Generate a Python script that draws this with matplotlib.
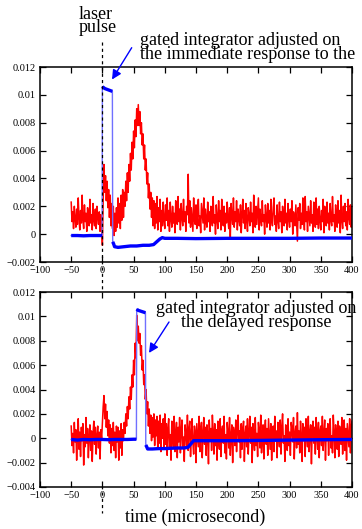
import numpy as np
import matplotlib
matplotlib.use("Agg")
import matplotlib.pyplot as plt
from matplotlib.ticker import FuncFormatter, MultipleLocator
from matplotlib.transforms import blended_transform_factory

plt.rcParams['font.family'] = ['Liberation Serif', 'DejaVu Serif']

# ---------------- data (signal values in units of 1e-3) ----------------
# red traces are sampled every 1.25 microseconds from -50 to 400
t_start, t_step = -50.0, 1.25

red_top = [
    # -50 .. -1.25
    2.3, 0.9, 1.6, 0.4, 2.0, 1.1, 0.5, 1.8, 0.7, 2.6,
    1.2, 0.3, 1.7, 0.8, 2.8, 1.0, 0.4, 2.1, 0.9, 1.5,
    0.2, 1.9, 1.3, 0.6, 2.5, 0.8, 1.4, 0.3, 2.2, 1.0,
    0.6, 1.8, 0.4, 2.0, 1.2, 0.7, 1.6, 0.2, 1.4, 0.5,
    # 0 .. 98.75
    -0.8, 2.5, 5.0, 3.0, 4.2, 2.4, 3.8, 1.9, 3.2, 1.2,
    2.8, 0.6, 2.2, 0.4, 2.0, -0.1, 1.5, 0.2, 1.9, 0.5,
    2.6, 0.8, 2.2, 0.4, 2.8, 1.0, 3.2, 1.2, 3.0, 2.0,
    3.8, 2.4, 4.4, 3.0, 5.0, 3.8, 5.8, 4.6, 6.6, 5.4,
    7.4, 6.2, 8.2, 7.0, 9.0, 7.8, 9.3, 7.8, 8.8, 7.2,
    8.0, 6.4, 7.2, 5.4, 6.4, 4.6, 5.4, 3.6, 4.4, 2.6,
    3.6, 1.8, 3.0, 1.2, 2.6, 0.6, 2.4, 0.4, 2.2, 0.8,
    2.7, 0.3, 1.9, 0.9, 2.5, 0.2, 1.7, 0.6, 2.3, 1.0,
    # 100 .. 400
    0.4, 2.1, 1.0, 2.6, 0.6, 1.7, 0.2, 2.3, 1.1, 0.5,
    2.0, 0.8, 1.5, 0.1, 2.4, 1.3, 0.7, 2.7, 0.9, 1.8,
    0.3, 2.2, 1.2, 0.6, 2.5, 0.9, 1.6, 0.2, 2.0, 1.4,
    4.3, 0.8, 2.4, 0.5, 1.9, 1.1, 0.2, 2.6, 1.0, 0.7,
    2.1, 0.4, 1.7, 2.5, 0.6, 1.3, 0.1, 2.2, 1.5, 0.8,
    2.6, 0.3, 1.8, 1.0, 0.5, 2.3, 0.9, 1.6, 0.2, 2.0,
    1.2, 0.6, 2.7, 0.8, 1.4, 0.0, 2.1, 1.1, 0.4, 2.4,
    0.9, 1.7, 0.3, 2.5, 1.2, 0.6, 2.0, 0.2, 1.5, 0.8,
    2.3, 1.0, 0.4, 1.9, -0.2, 2.2, 1.3, 0.7, 2.6, 0.5,
    1.6, 0.9, 2.4, 0.3, 1.8, 1.1, 0.6, 2.1, 0.1, 1.4,
    2.5, 0.8, 1.7, 0.4, 2.2, 1.0, 0.2, 1.9, 1.3, 0.6,
    2.3, 0.9, 1.5, 0.1, 2.8, 1.2, 0.5, 2.0, 0.7, 1.6,
    2.6, 0.3, 1.8, 1.1, 0.6, 2.4, 0.9, 1.4, 0.0, 2.1,
    1.2, 0.5, 2.2, 0.8, 1.7, 0.3, 2.5, 1.0, 0.6, 1.9,
    2.6, 0.7, 1.3, 0.2, 2.1, 1.0, 0.4, 2.3, 0.9, 1.6,
    0.1, 2.0, 1.2, 0.6, 2.5, 0.8, 1.5, 0.3, 2.2, 1.1,
    0.5, 1.8, 0.9, 2.4, 0.0, 1.6, 1.2, 0.6, 2.1, 0.8,
    -0.5, 1.9, 1.0, 2.2, 0.4, 1.5, 0.7, 2.6, 1.1, 0.3,
    2.7, 0.9, 1.6, 0.2, 2.0, 1.3, 0.6, 2.4, 0.8, 1.4,
    0.2, 2.3, 1.1, 0.5, 2.6, 0.7, 1.8, 0.4, 2.0, 1.0,
    0.3, 1.7, 0.9, 2.5, 0.1, 2.0, 1.2, 0.6, 2.3, 0.8,
    1.5, 0.3, 2.2, 1.0, 0.6, 2.7, 0.9, 1.4, 0.2, 2.1,
    1.1, 0.5, 2.4, 0.8, 1.7, 0.1, 2.8, 1.0, 0.4, 2.0,
    0.9, 2.2, 0.6, 1.6, 0.3, 2.5, 1.2, 0.7, 2.1, 0.5,
    1.9,
]

red_bot = [
    # -50 .. -1.25
    1.0, -0.6, 0.4, -1.2, 1.3, -0.3, 0.7, -1.8, 0.2, 1.6,
    -0.9, 0.5, -1.5, 0.9, -0.2, 1.2, -2.2, 0.3, -0.7, 1.7,
    -0.4, 0.8, -1.6, 0.1, 1.1, -1.0, 0.6, -1.9, 0.4, 1.4,
    -0.5, 0.9, -1.3, 0.2, 1.0, -0.8, 0.5, -1.7, 0.7, -0.1,
    # 0 .. 98.75
    1.2, 2.6, 3.5, 1.6, 2.8, 0.9, 2.2, 0.2, 1.5, -0.4,
    1.1, -1.2, 0.8, -0.6, 1.3, -1.0, 0.5, -1.6, 1.0, -0.3,
    0.9, -1.8, 0.6, -0.8, 1.2, -1.4, 0.7, -0.2, 1.3, 0.4,
    2.0, 1.0, 2.6, 1.6, 3.4, 2.4, 4.2, 3.2, 5.2, 4.2,
    6.4, 5.2, 7.8, 6.6, 10.1, 8.0, 9.2, 7.8, 8.6, 6.8,
    7.6, 5.6, 6.4, 4.4, 5.2, 3.2, 4.0, 2.0, 3.0, 1.0,
    2.4, 0.4, 1.9, -0.2, 1.7, 0.1, 2.0, -0.6, 1.5, 0.2,
    1.8, -0.9, 1.4, -0.4, 1.9, -1.1, 1.2, 0.0, 1.6, -0.7,
    # 100 .. 400
    2.0, -0.5, 1.2, -1.4, 0.8, 1.6, -0.9, 0.3, -1.8, 1.4,
    0.5, -0.7, 1.8, -1.1, 0.2, 1.3, -1.6, 0.9, -0.3, 1.7,
    -1.2, 0.6, 1.5, -0.8, 0.1, -1.9, 1.1, 0.4, -0.6, 1.9,
    -1.0, 0.7, 1.4, -1.5, 0.3, 1.6, -0.4, -1.3, 1.0, 0.5,
    -2.0, 1.2, 0.2, -0.7, 1.8, -1.1, 0.6, 1.3, -1.6, 0.4,
    1.7, -0.5, 0.9, -1.4, 1.1, 0.3, -2.1, 1.5, -0.2, 0.8,
    -1.0, 1.9, 0.5, -1.3, 1.2, -0.6, 0.7, -1.8, 1.4, 0.1,
    -0.9, 1.6, -1.5, 0.6, 1.0, -0.4, 1.8, -1.2, 0.3, -1.7,
    1.3, 0.5, -0.8, 1.7, -1.4, 0.2, 1.1, -2.0, 0.9, 0.4,
    -0.6, 1.5, -1.1, 0.7, 1.9, -0.3, 0.6, -1.6, 1.2, -0.9,
    0.8, 1.4, -1.9, 0.3, 1.0, -0.7, 1.6, -1.3, 0.5, 1.8,
    -0.4, 0.9, -2.0, 1.2, 0.2, -1.0, 1.7, -0.6, 0.4, -1.5,
    1.3, 0.6, -0.8, 1.9, -1.2, 0.1, 1.1, -1.7, 0.7, 1.5,
    -0.5, 0.8, -1.4, 1.6, 0.3, -0.9, 1.2, -1.8, 0.5, 1.0,
    -1.1, 1.8, -0.2, 0.6, -1.6, 1.3, 0.4, -0.7, 1.5, -1.3,
    0.9, 2.0, -0.4, 0.2, -1.9, 1.1, 0.7, -1.0, 1.6, -0.6,
    0.5, -1.4, 1.3, 0.8, -0.3, 1.7, -1.7, 0.4, 1.0, -0.8,
    2.1, -0.5, 0.6, -1.2, 1.4, 0.2, -1.9, 1.2, -0.2, 0.9,
    -1.5, 1.6, 0.3, -0.7, 1.8, -1.1, 0.5, 1.1, -2.1, 0.7,
    1.4, -0.4, 0.9, -1.3, 1.7, 0.1, -0.9, 1.3, -1.6, 0.6,
    1.0, -0.6, 1.8, -1.0, 0.4, 1.5, -1.8, 0.8, -0.2, 1.2,
    -1.4, 0.7, 1.6, -0.8, 0.2, -1.2, 1.9, 0.5, -1.6, 1.1,
    0.3, -0.9, 1.4, -1.5, 1.0, 0.6, -0.5, 1.7, -1.3, 0.4,
    1.5, -1.0, 0.8, -1.8, 1.2, 0.2, -0.7, 1.6, -1.2, 0.9,
    1.4,
]

blue_top_t = [-50, -40, -30, -20, -10, -0.5, 0, 1, 4, 7, 10, 13, 16,
              16.5, 18, 19.5, 25, 35, 45, 55, 65, 75, 82, 87, 92, 96,
              100, 120, 150, 200, 250, 300, 350, 400]
blue_top_v = [-0.1, -0.1, -0.12, -0.1, -0.1, -0.1, 10.6, 10.55, 10.45,
              10.4, 10.35, 10.3, 10.25,
              -0.55, -0.7, -0.9, -0.95, -0.9, -0.85, -0.85, -0.8, -0.8,
              -0.75, -0.55, -0.35, -0.25, -0.3, -0.3, -0.32, -0.3, -0.3,
              -0.3, -0.28, -0.28]

blue_bot_t = [-50, -40, -30, -20, -10, 0, 10, 20, 30, 40, 50, 54.5,
              55, 57, 60, 63, 66, 69,
              69.5, 71, 72.5, 80, 90, 100, 110, 120, 130, 137, 142, 146,
              150, 160, 200, 250, 300, 350, 400]
blue_bot_v = [-0.1, -0.15, -0.1, -0.12, -0.1, -0.1, -0.12, -0.1, -0.1,
              -0.1, -0.08, -0.08,
              10.6, 10.5, 10.45, 10.4, 10.35, 10.3,
              -0.55, -0.7, -0.88, -0.88, -0.85, -0.85, -0.82, -0.8, -0.8,
              -0.75, -0.45, -0.2, -0.2, -0.2, -0.2, -0.18, -0.15, -0.12,
              -0.1]

x_ticks = [-100, -50, 0, 50, 100, 150, 200, 250, 300, 350, 400]
top_ylim = (-0.002, 0.012)
bot_ylim = (-0.004, 0.012)

# ---------------- figure ----------------
W, H = 362, 529
fig = plt.figure(figsize=(W / 100, H / 100), dpi=100)


def px_axes(l, t, r, b):
    return fig.add_axes([l / W, 1 - b / H, (r - l) / W, (b - t) / H])


ax1 = px_axes(40, 67, 352, 262)
ax2 = px_axes(40, 292, 352, 487)

fmt = FuncFormatter(lambda v, p: ('%g' % round(v, 6)).replace('-', '\u2212'))


def draw_panel(ax, red, bt, bv, ylim):
    red = np.asarray(red) * 1e-3
    t = t_start + t_step * np.arange(len(red))
    ax.plot(t, red, color='red', lw=1.1, zorder=2)
    bt = np.asarray(bt, float)
    bv = np.asarray(bv) * 1e-3
    ax.plot(bt, bv, color='#7070ff', lw=1.0, zorder=3)
    # thick segments between the jumps
    jumps = np.where(np.abs(np.diff(bv)) > 0.002)[0]
    starts = np.r_[0, jumps + 1]
    ends = np.r_[jumps + 1, len(bv)]
    for s, e in zip(starts, ends):
        ax.plot(bt[s:e], bv[s:e], color='blue', lw=2.4,
                solid_capstyle='butt', zorder=4)
    ax.set_xlim(-100, 400)
    ax.set_ylim(*ylim)
    ax.set_xticks(x_ticks)
    ax.yaxis.set_major_locator(MultipleLocator(0.002))
    ax.xaxis.set_major_formatter(fmt)
    ax.yaxis.set_major_formatter(fmt)
    ax.tick_params(direction='in', top=True, right=True, length=4,
                   width=0.9, labelsize=7.5, pad=3, colors='black')
    for sp in ax.spines.values():
        sp.set_linewidth(1.1)


draw_panel(ax1, red_top, blue_top_t, blue_top_v, top_ylim)
draw_panel(ax2, red_bot, blue_bot_t, blue_bot_v, bot_ylim)

# dashed "laser pulse" line at t = 0 running through both panels
tr = blended_transform_factory(ax1.transData, fig.transFigure)
ax1.plot([0, 0], [1 - 42 / H, 1 - 513 / H], transform=tr, color='black',
         lw=0.9, dashes=(2.5, 2.5), clip_on=False, zorder=5)

fs = 13


def ftext(x, y, s, ha='left'):
    fig.text(x / W, 1 - y / H, s, ha=ha, va='baseline', fontsize=fs)


ftext(79, 19, 'laser')
ftext(79, 32, 'pulse')
ftext(140, 45, 'gated integrator adjusted on')
ftext(140, 59, 'the immediate response to the')
ftext(256, 313, 'gated integrator adjusted on', ha='center')
ftext(256, 327, 'the delayed response', ha='center')
ftext(195.5, 522, 'time (microsecond)', ha='center')

arrow = dict(arrowstyle='-|>', color='blue', lw=1.0, mutation_scale=14,
             shrinkA=0, shrinkB=0)
ax1.annotate('', xy=(15.4, 0.0111), xycoords='data',
             xytext=(131.7 / W, 1 - 47.7 / H), textcoords='figure fraction',
             arrowprops=arrow, annotation_clip=False)
ax2.annotate('', xy=(74.7, 0.0070), xycoords='data',
             xytext=(169 / W, 1 - 322 / H), textcoords='figure fraction',
             arrowprops=arrow, annotation_clip=False)

fig.savefig('out.png', dpi=100)
